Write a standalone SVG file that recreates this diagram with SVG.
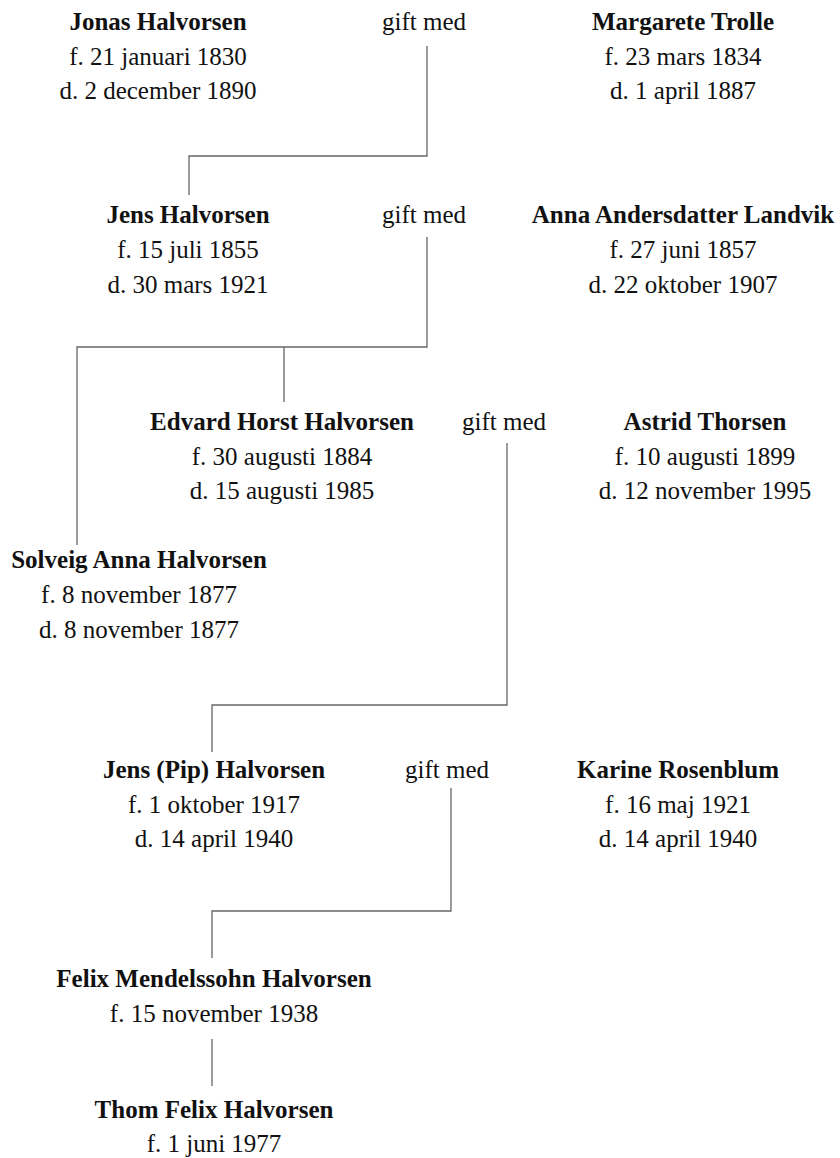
<svg xmlns="http://www.w3.org/2000/svg" width="840" height="1158" viewBox="0 0 840 1158">
<style>
text{font-family:"Liberation Serif","Times New Roman",serif;font-size:25px;fill:#111;text-anchor:middle}
.n{font-weight:bold}
.c{fill:none;stroke:#666;stroke-width:1.3}
</style>
<rect width="840" height="1158" fill="#fff"/>
<g id="connectors">
<path class="c" d="M427,46 V156 H189 V195"/>
<path class="c" d="M427,237 V347 H77 V545 M284,347 V402"/>
<path class="c" d="M507,443 V705 H212 V752"/>
<path class="c" d="M451,788 V911 H212 V958"/>
<path class="c" d="M212,1039 V1086"/>
</g>
<g id="jonas"><text class="n" x="158" y="30">Jonas Halvorsen</text><text x="158" y="65">f. 21 januari 1830</text><text x="158" y="99">d. 2 december 1890</text></g>
<g id="gift1"><text x="424" y="30">gift med</text></g>
<g id="margarete"><text class="n" x="683" y="30">Margarete Trolle</text><text x="683" y="65">f. 23 mars 1834</text><text x="683" y="99">d. 1 april 1887</text></g>
<g id="jens"><text class="n" x="188" y="223">Jens Halvorsen</text><text x="188" y="258">f. 15 juli 1855</text><text x="188" y="293">d. 30 mars 1921</text></g>
<g id="gift2"><text x="424" y="223">gift med</text></g>
<g id="anna"><text class="n" x="683" y="223">Anna Andersdatter Landvik</text><text x="683" y="258">f. 27 juni 1857</text><text x="683" y="293">d. 22 oktober 1907</text></g>
<g id="edvard"><text class="n" x="282" y="430">Edvard Horst Halvorsen</text><text x="282" y="465">f. 30 augusti 1884</text><text x="282" y="499">d. 15 augusti 1985</text></g>
<g id="gift3"><text x="504" y="430">gift med</text></g>
<g id="astrid"><text class="n" x="705" y="430">Astrid Thorsen</text><text x="705" y="465">f. 10 augusti 1899</text><text x="705" y="499">d. 12 november 1995</text></g>
<g id="solveig"><text class="n" x="139" y="568">Solveig Anna Halvorsen</text><text x="139" y="603">f. 8 november 1877</text><text x="139" y="638">d. 8 november 1877</text></g>
<g id="pip"><text class="n" x="214" y="778">Jens (Pip) Halvorsen</text><text x="214" y="813">f. 1 oktober 1917</text><text x="214" y="847">d. 14 april 1940</text></g>
<g id="gift4"><text x="447" y="778">gift med</text></g>
<g id="karine"><text class="n" x="678" y="778">Karine Rosenblum</text><text x="678" y="813">f. 16 maj 1921</text><text x="678" y="847">d. 14 april 1940</text></g>
<g id="felix"><text class="n" x="214" y="987">Felix Mendelssohn Halvorsen</text><text x="214" y="1022">f. 15 november 1938</text></g>
<g id="thom"><text class="n" x="214" y="1118">Thom Felix Halvorsen</text><text x="214" y="1152">f. 1 juni 1977</text></g>
</svg>
